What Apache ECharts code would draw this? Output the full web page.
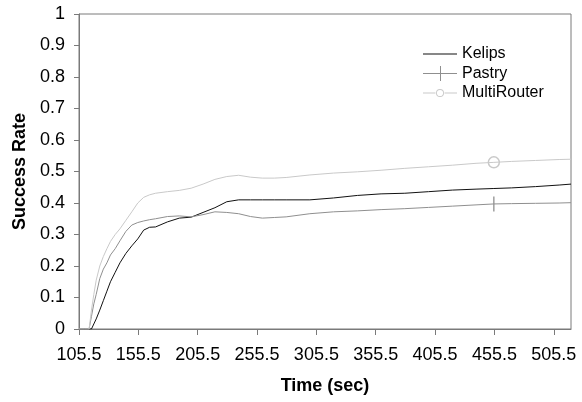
<!DOCTYPE html>
<html>
<head>
<meta charset="utf-8">
<script src="https://cdn.jsdelivr.net/npm/echarts@6/dist/echarts.min.js"></script>
<style>
html,body{margin:0;padding:0;background:#fff;}
#chart{width:582px;height:402px;}
</style>
</head>
<body>
<div id="chart"></div>
<script>
var seriesNames = ['Kelips', 'Pastry', 'MultiRouter'];
var xTicks = [105.5, 155.5, 205.5, 255.5, 305.5, 355.5, 405.5, 455.5, 505.5];
var times = [105.5, 110, 114, 116, 118, 120, 123, 126, 129, 132, 136, 140, 145, 150, 155, 160, 165, 170, 180, 190, 200, 210, 220, 230, 240, 250, 260, 270, 280, 300, 320, 340, 360, 380, 400, 420, 440, 455, 470, 490, 510, 520];
var kelips = [0, 0, 0, 0, 0.016, 0.032, 0.06, 0.09, 0.12, 0.15, 0.18, 0.21, 0.24, 0.264, 0.286, 0.314, 0.323, 0.324, 0.34, 0.352, 0.355, 0.37, 0.385, 0.404, 0.41, 0.41, 0.41, 0.41, 0.41, 0.41, 0.416, 0.424, 0.429, 0.431, 0.436, 0.441, 0.444, 0.446, 0.448, 0.452, 0.457, 0.46];
var pastry = [0, 0, 0, 0.04, 0.08, 0.11, 0.16, 0.19, 0.21, 0.235, 0.255, 0.28, 0.31, 0.33, 0.338, 0.343, 0.347, 0.35, 0.357, 0.359, 0.356, 0.363, 0.372, 0.37, 0.366, 0.357, 0.352, 0.354, 0.356, 0.366, 0.372, 0.375, 0.379, 0.382, 0.386, 0.39, 0.394, 0.397, 0.398, 0.399, 0.4, 0.401];
var multiRouter = [0, 0, 0, 0.06, 0.11, 0.155, 0.2, 0.23, 0.255, 0.278, 0.3, 0.318, 0.345, 0.372, 0.4, 0.418, 0.426, 0.431, 0.436, 0.44, 0.447, 0.46, 0.475, 0.484, 0.488, 0.482, 0.479, 0.479, 0.481, 0.489, 0.495, 0.499, 0.504, 0.51, 0.515, 0.52, 0.526, 0.529, 0.532, 0.535, 0.538, 0.539];
var markerTime = 455;

var colors = ['#111111', '#8f8f8f', '#c9c9c9'];
var font = 'Arial, "Liberation Sans", sans-serif';

function build(values, marker) {
  return times.map(function (t, i) {
    var item = { value: [t, values[i]], symbol: 'none' };
    if (marker && t === markerTime) {
      item.symbol = marker.symbol;
      item.symbolSize = marker.size;
      item.itemStyle = marker.style;
    }
    return item;
  });
}

var legendIcons = [
  'path://M0,0L34,0L34,1L0,1Z',
  'path://M0,7L17,7L17,0L18,0L18,7L34,7L34,8L18,8L18,15L17,15L17,8L0,8Z',
  'path://M0,4L12.5,4L12.5,5L0,5Z M21.5,4L34,4L34,5L21.5,5Z M13,4.5A4,4 0 1,0 21,4.5A4,4 0 1,0 13,4.5Z M13.9,4.5A3.1,3.1 0 1,1 20.1,4.5A3.1,3.1 0 1,1 13.9,4.5Z'
];

var chart = echarts.init(document.getElementById('chart'), null, { renderer: 'canvas' });
chart.setOption({
  backgroundColor: '#ffffff',
  animation: false,
  textStyle: { fontFamily: font, color: '#000' },
  grid: { left: 79, right: 11, top: 14, bottom: 73, show: true, borderColor: '#7a7a7a', borderWidth: 1 },
  legend: {
    orient: 'vertical',
    left: 418,
    top: 41,
    itemWidth: 34,
    itemHeight: 15,
    itemGap: 3.5,
    textStyle: { fontFamily: font, fontSize: 16, color: '#000' },
    itemStyle: { borderWidth: 0 },
    data: seriesNames.map(function (n, i) { return { name: n, icon: legendIcons[i] }; })
  },
  xAxis: {
    type: 'value',
    min: 105.5,
    max: 520,
    name: 'Time (sec)',
    nameLocation: 'middle',
    nameGap: 48,
    nameTextStyle: { fontFamily: font, fontSize: 18, fontWeight: 'bold', color: '#000' },
    axisLine: { show: true, lineStyle: { color: '#7a7a7a', width: 1 } },
    axisTick: { show: true, length: 6, customValues: xTicks, lineStyle: { color: '#7a7a7a' } },
    axisLabel: { customValues: xTicks, fontSize: 18, color: '#000', margin: 17, fontFamily: font },
    splitLine: { show: false }
  },
  yAxis: {
    type: 'value',
    min: 0,
    max: 1,
    interval: 0.1,
    name: 'Success Rate',
    nameLocation: 'middle',
    nameGap: 43,
    nameTextStyle: { fontFamily: font, fontSize: 18, fontWeight: 'bold', color: '#000' },
    axisLine: { show: true, lineStyle: { color: '#7a7a7a', width: 1 } },
    axisTick: { show: true, length: 5, lineStyle: { color: '#7a7a7a' } },
    axisLabel: { fontSize: 18, color: '#000', margin: 14, fontFamily: font },
    splitLine: { show: false }
  },
  series: [
    {
      name: seriesNames[0], type: 'line', color: colors[0],
      symbol: 'none', showSymbol: true,
      lineStyle: { width: 1, color: colors[0] },
      data: build(kelips, null)
    },
    {
      name: seriesNames[1], type: 'line', color: colors[1],
      symbol: 'none', showSymbol: true,
      lineStyle: { width: 1, color: colors[1] },
      data: build(pastry, { symbol: 'rect', size: [1.3, 15], style: { color: colors[1], borderWidth: 0 } })
    },
    {
      name: seriesNames[2], type: 'line', color: colors[2],
      symbol: 'none', showSymbol: true,
      lineStyle: { width: 1, color: colors[2] },
      data: build(multiRouter, { symbol: 'circle', size: 11, style: { color: 'rgba(255,255,255,0)', borderColor: colors[2], borderWidth: 1.5 } })
    }
  ]
});
</script>
</body>
</html>
